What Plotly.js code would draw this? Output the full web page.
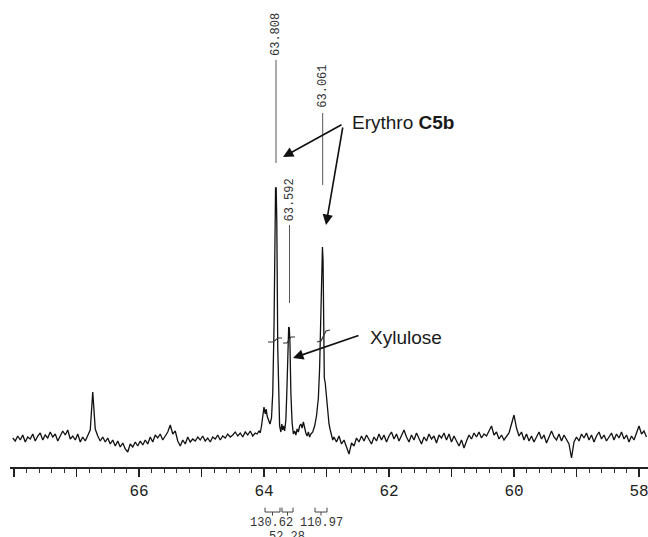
<!DOCTYPE html>
<html>
<head>
<meta charset="utf-8">
<script src="https://cdn.plot.ly/plotly-3.0.1.min.js"></script>
<style>html,body{margin:0;padding:0;background:#fff;}#chart{width:648px;height:537px;}</style>
</head>
<body>
<div id="chart"></div>
<script>
// ---- data ----
// baseline noise, left of the peak cluster: ppm 68.02 -> 64.14, step 0.04
const leftStart = 68.02, noiseStep = 0.04;
const leftNoise = [0,-3,2,-2,3,-4,1,-1,4,-3,2,5,-2,3,0,6,1,4,-3,2,7,3,8,-1,2,-2,4,-4,1,-3,3,8,46,9,2,-3,1,-4,0,-6,-2,-8,-3,-9,-5,-11,-14,-6,-9,-4,-8,-3,-7,-2,-6,1,-4,3,0,4,-2,2,6,13,4,7,-3,-8,-2,-6,1,-4,-1,-3,1,-2,2,-3,0,-4,1,-1,3,-2,2,0,4,1,3,6,2,5,1,6,3,7,2,5];
// peak cluster (ppm, intensity)
const peakPpm = [64.11,64.08,64.06,64.04,64.02,64.00,63.98,63.965,63.95,63.93,63.905,63.88,63.86,63.84,63.825,63.815,63.805,63.795,63.78,63.765,63.75,63.73,63.715,63.70,63.685,63.67,63.65,63.635,63.62,63.605,63.595,63.585,63.57,63.55,63.53,63.51,63.49,63.47,63.45,63.43,63.41,63.39,63.37,63.35,63.33,63.31,63.29,63.27,63.25,63.22,63.19,63.16,63.13,63.11,63.09,63.075,63.065,63.055,63.045,63.035,63.02,63.00,62.98,62.96,62.94,62.92,62.90,62.88];
const peakInt = [4,7,5,12,22,31,24,29,22,18,14,20,45,110,220,250,250,215,90,30,12,6,14,8,12,7,18,45,90,111,110,95,45,15,4,7,3,9,6,12,14,10,16,9,5,2,6,1,4,6,12,22,40,70,130,185,191,178,110,60,55,38,22,14,8,3,-2,1];
// baseline noise, right of the peak cluster: ppm 62.84 -> 57.88, step 0.04
const rightStart = 62.84;
const rightNoise = [-4,2,-6,-2,-10,-16,-5,-8,0,-4,2,-3,3,-1,-6,1,-3,4,-2,3,-4,2,6,-1,4,-3,2,8,1,-4,3,-2,5,-1,-6,1,-3,4,-1,2,-5,3,0,5,-2,4,-4,2,-3,-8,-2,-10,-3,3,-1,5,1,6,0,4,2,7,12,3,6,-1,3,-2,1,5,14,23,10,2,6,-2,4,-3,2,-4,1,6,-1,3,-5,2,7,1,-2,4,-3,3,-1,-6,-20,-4,1,-3,4,0,5,-2,3,-4,2,6,-1,3,-3,1,5,-2,4,0,6,-1,3,-4,2,-2,5,12,4,7,1];

// peak labels
const labelPpm = [63.808, 63.592, 63.061];
const labelText = ['63.808', '63.592', '63.061'];
const labelTextY = [403, 238, 352];
const labelLineFrom = [275, 135, 253];
const labelLineTo = [378, 213, 325];

// integral ranges and values
const intFrom = [63.984, 63.712, 63.184];
const intTo = [63.744, 63.536, 62.992];
const intText = ['130.62', '52.28', '110.97'];
const intTextPpm = [63.88, 63.632, 63.08];
const intTextY = [-0.12, -0.15, -0.12];

// integral curve marks on peaks
const markPpm = [63.936,63.856,63.776,63.712,null,63.696,63.632,63.568,63.504,null,63.152,63.088,63.008,62.944];
const markInt = [96,96,100,100,null,95,95,101,101,null,96,97,107,108];

// axis ticks
const tickVals = [68,67,66,65,64,63,62,61,60,59,58];
const tickText = ['','','66','','64','','62','','60','','58'];

// ---- build spectrum ----
const specX = [], specY = [];
leftNoise.forEach((v,i)=>{ specX.push(+(leftStart - i*noiseStep).toFixed(3)); specY.push(v); });
peakPpm.forEach((p,i)=>{ specX.push(p); specY.push(peakInt[i]); });
rightNoise.forEach((v,i)=>{ specX.push(+(rightStart - i*noiseStep).toFixed(3)); specY.push(v); });

const traces = [
  {x: specX, y: specY, type:'scatter', mode:'lines', line:{color:'#111', width:1.3}, hoverinfo:'skip', showlegend:false},
  {x: markPpm, y: markInt, type:'scatter', mode:'lines', line:{color:'#333', width:1.2}, connectgaps:false, hoverinfo:'skip', showlegend:false}
];

const shapes = [];
labelPpm.forEach((p,i)=>{
  shapes.push({type:'line', xref:'x', yref:'y', x0:p, x1:p, y0:labelLineFrom[i], y1:labelLineTo[i], line:{color:'#555', width:1}});
});
const bTop = -0.087, bBot = -0.0964, bDown = -0.104;
intFrom.forEach((a,i)=>{
  const b = intTo[i], m = (a+b)/2;
  shapes.push({type:'path', xref:'x', yref:'paper',
    path:`M ${a},${bTop} L ${a},${bBot} L ${b},${bBot} L ${b},${bTop} M ${m},${bBot} L ${m},${bDown}`,
    line:{color:'#444', width:1}});
});

const annotations = [];
labelPpm.forEach((p,i)=>{
  annotations.push({x:p, y:labelTextY[i], xref:'x', yref:'y', text:labelText[i], textangle:-90, showarrow:false,
    xanchor:'center', yanchor:'middle', font:{family:'Liberation Mono, DejaVu Sans Mono, monospace', size:12, color:'#333'}});
});
intText.forEach((t,i)=>{
  annotations.push({x:intTextPpm[i], y:intTextY[i], xref:'x', yref:'paper', text:t, showarrow:false,
    xanchor:'center', yanchor:'middle', font:{family:'Liberation Mono, DejaVu Sans Mono, monospace', size:12, color:'#333'}});
});
const sansFont = {family:'Liberation Sans, Arial, sans-serif', size:19, color:'#1a1a1a'};
annotations.push({x:62.624, y:316, xref:'x', yref:'y', text:'Erythro <b>C5b</b>', showarrow:false, xanchor:'left', yanchor:'middle', font:sansFont});
annotations.push({x:62.336, y:101, xref:'x', yref:'y', text:'Xylulose', showarrow:false, xanchor:'left', yanchor:'middle', font:sansFont});
const arrowStyle = {showarrow:true, arrowhead:2, arrowsize:1.3, arrowwidth:1.6, arrowcolor:'#111', standoff:0, startstandoff:0, text:'', xref:'x', yref:'y'};
annotations.push(Object.assign({}, arrowStyle, {x:63.696, y:281, ax:60, ay:-33}));
annotations.push(Object.assign({}, arrowStyle, {x:63.008, y:213, ax:17, ay:-99}));
annotations.push(Object.assign({}, arrowStyle, {x:63.536, y:80, ax:67, ay:-23}));

const layout = {
  width:648, height:537,
  margin:{l:10, r:0, t:0, b:70},
  paper_bgcolor:'#fff', plot_bgcolor:'#fff',
  showlegend:false,
  xaxis:{range:[68.064, 57.856], showgrid:false, zeroline:false, showline:true, linecolor:'#222', linewidth:2,
    ticks:'outside', ticklen:8, tickwidth:1.3, tickcolor:'#222', tickmode:'array', tickvals:tickVals, ticktext:tickText,
    ticklabeloverflow:'allow',
    tickfont:{family:'Liberation Mono, DejaVu Sans Mono, monospace', size:16, color:'#222'},
    minor:{tickmode:'linear', tick0:0, dtick:0.2, ticklen:4, tickwidth:1, tickcolor:'#333', ticks:'outside'},
    fixedrange:true},
  yaxis:{range:[-29, 438], visible:false, fixedrange:true},
  shapes:shapes,
  annotations:annotations
};
Plotly.newPlot('chart', traces, layout, {displayModeBar:false, staticPlot:true});
</script>
</body>
</html>
